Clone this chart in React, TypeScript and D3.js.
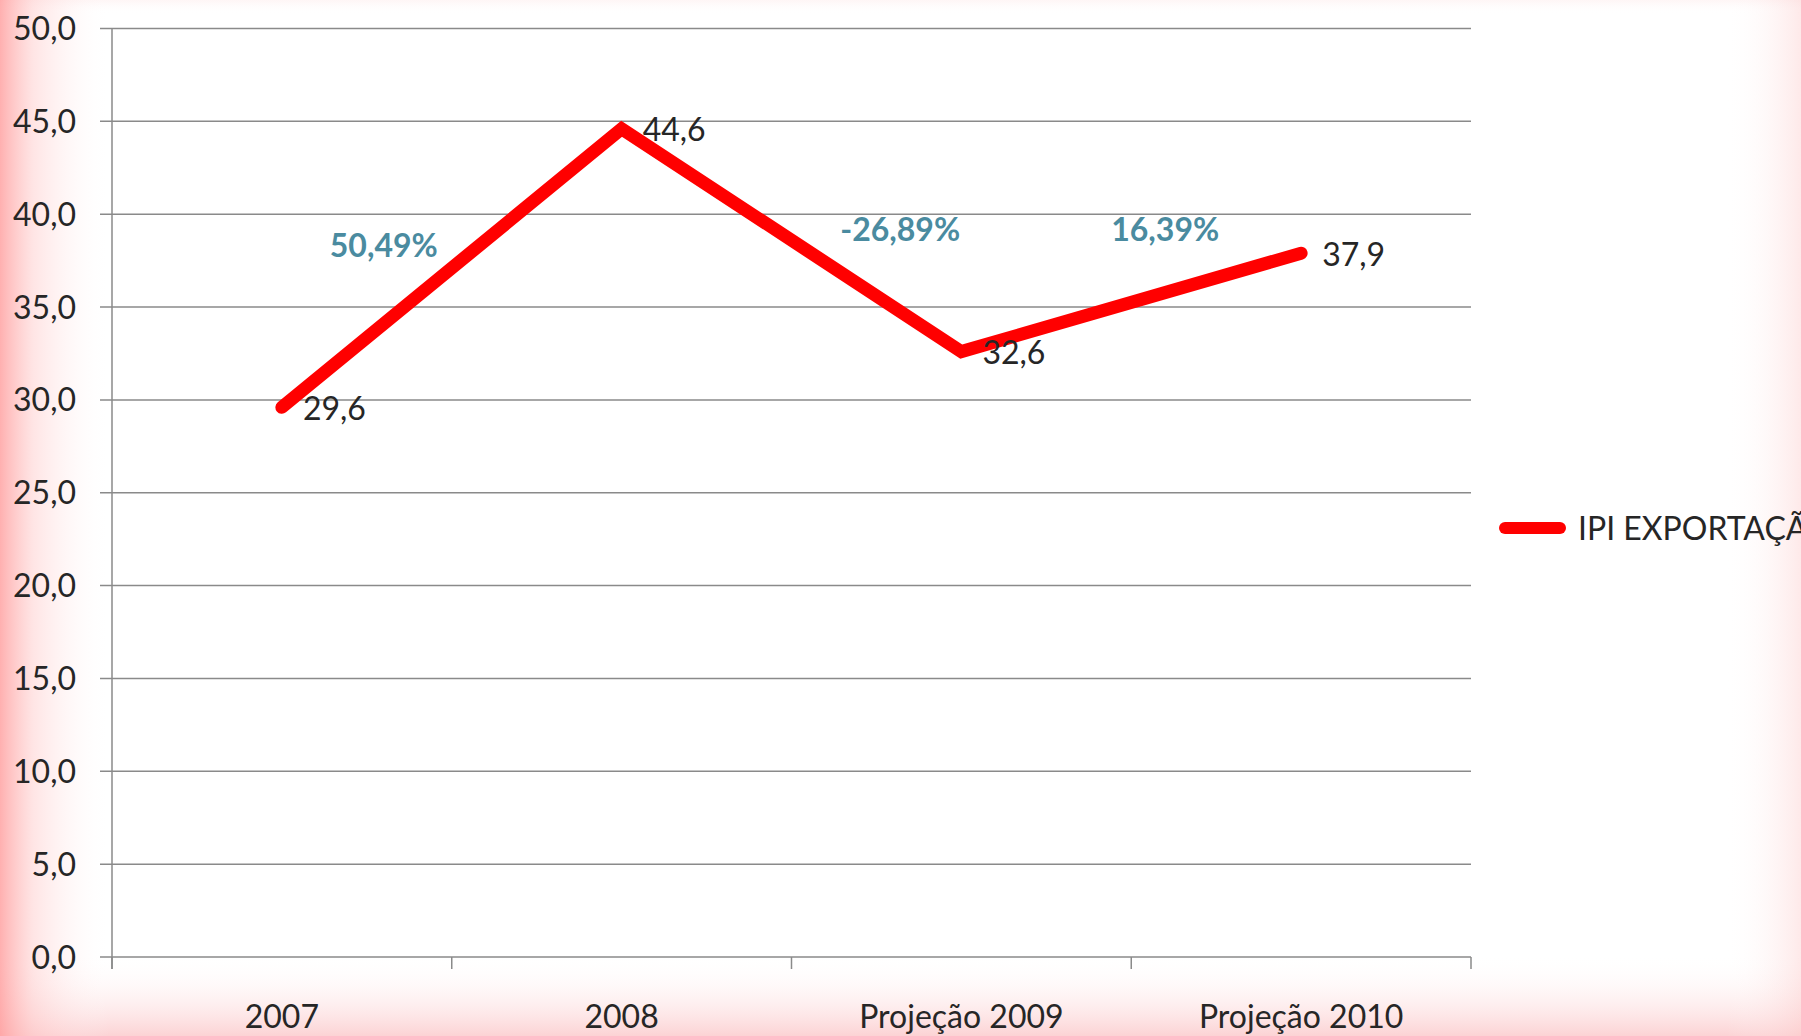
import * as d3 from "d3";

const categories = ["2007", "2008", "Projeção 2009", "Projeção 2010"];
const values = [29.6, 44.6, 32.6, 37.9];
const valueLabels = ["29,6", "44,6", "32,6", "37,9"];
const yTicks = [0, 5, 10, 15, 20, 25, 30, 35, 40, 45, 50];
// growth annotations, anchored in data space (category index, value)
const growthLabels = ["50,49%", "-26,89%", "16,39%"];
const growthAt = [0.3, 1.82, 2.6];
const growthY = [38.3, 39.2, 39.2];
const seriesName = "IPI EXPORTAÇÃO";

const W = 1801;
const H = 1036;
const FONT = "Lato, 'Open Sans', sans-serif";

export default function App() {
  const margin = { left: 112, right: 330, top: 28.5, bottom: 79 };
  const x = d3
    .scaleBand<string>()
    .domain(categories)
    .range([margin.left, W - margin.right])
    .padding(0);
  const cx = (c: string) => (x(c) as number) + x.bandwidth() / 2;
  const xi = d3
    .scaleLinear()
    .domain([0, categories.length - 1])
    .range([cx(categories[0]), cx(categories[categories.length - 1])]);
  const y = d3.scaleLinear().domain([0, 50]).range([H - margin.bottom, margin.top]);

  const line = d3
    .line<number>()
    .x((_, i) => cx(categories[i]))
    .y((d) => y(d));

  const fmt = (v: number) => v.toFixed(1).replace(".", ",");
  const x0 = margin.left;
  const x1 = W - margin.right;
  const boundaries = [...categories.map((c) => x(c) as number), x1];

  return (
    <svg
      width={W}
      height={H}
      style={{ position: "absolute", left: 0, top: 0, display: "block", background: "#fff" }}
      fontFamily={FONT}
    >
      <defs>
        <linearGradient id="gl" x1="0" x2="1" y1="0" y2="0">
          <stop offset="0" stopColor="#ff9c9c" stopOpacity="0.8" />
          <stop offset="0.3" stopColor="#ffc4c4" stopOpacity="0.45" />
          <stop offset="1" stopColor="#ffffff" stopOpacity="0" />
        </linearGradient>
        <linearGradient id="gr" x1="1" x2="0" y1="0" y2="0">
          <stop offset="0" stopColor="#fcc8c8" stopOpacity="0.4" />
          <stop offset="1" stopColor="#ffffff" stopOpacity="0" />
        </linearGradient>
        <linearGradient id="gb" x1="0" x2="0" y1="1" y2="0">
          <stop offset="0" stopColor="#fbc4c6" stopOpacity="0.75" />
          <stop offset="1" stopColor="#ffffff" stopOpacity="0" />
        </linearGradient>
        <linearGradient id="gt" x1="0" x2="0" y1="0" y2="1">
          <stop offset="0" stopColor="#fbd0d0" stopOpacity="0.2" />
          <stop offset="1" stopColor="#ffffff" stopOpacity="0" />
        </linearGradient>
      </defs>

      <rect x={0} y={0} width={W} height={H} fill="#fff" />
      <rect x={0} y={0} width={W} height={14} fill="url(#gt)" />
      <rect x={0} y={955} width={W} height={H - 955} fill="url(#gb)" />
      <rect x={W - 75} y={0} width={75} height={H} fill="url(#gr)" />
      <rect x={0} y={0} width={110} height={H} fill="url(#gl)" />

      {/* gridlines + y ticks */}
      {yTicks.map((t) => (
        <g key={t}>
          <line x1={x0 - 12} x2={x1} y1={y(t)} y2={y(t)} stroke="#8a8a8a" strokeWidth={1.5} />
          <text
            x={76}
            y={y(t)}
            dy="0.36em"
            textAnchor="end"
            fontSize={32}
            fill="#262626"
          >
            {fmt(t)}
          </text>
        </g>
      ))}

      {/* y axis */}
      <line x1={x0} x2={x0} y1={y(50)} y2={y(0) + 12} stroke="#8a8a8a" strokeWidth={1.5} />

      {/* x ticks */}
      {boundaries.map((b, i) => (
        <line key={i} x1={b} x2={b} y1={y(0)} y2={y(0) + 12} stroke="#8a8a8a" strokeWidth={1.5} />
      ))}
      {categories.map((c) => (
        <text key={c} x={cx(c)} y={1016} dy="0.36em" textAnchor="middle" fontSize={32} fill="#262626">
          {c}
        </text>
      ))}

      {/* series */}
      <path
        d={line(values) || ""}
        fill="none"
        stroke="#ff0000"
        strokeWidth={13}
        strokeLinejoin="miter"
        strokeLinecap="round"
      />
      {values.map((v, i) => (
        <text
          key={i}
          x={cx(categories[i]) + 21}
          y={y(v) + 1}
          dy="0.36em"
          fontSize={32}
          fill="#262626"
        >
          {valueLabels[i]}
        </text>
      ))}

      {/* growth annotations */}
      {growthLabels.map((g, i) => (
        <text
          key={g}
          x={xi(growthAt[i])}
          y={y(growthY[i])}
          dy="0.36em"
          textAnchor="middle"
          fontSize={32}
          fontWeight="bold"
          fill="#4a8ba0"
        >
          {g}
        </text>
      ))}

      {/* legend */}
      <line x1={1505} x2={1560} y1={528} y2={528} stroke="#ff0000" strokeWidth={12} strokeLinecap="round" />
      <text x={1578} y={528} dy="0.36em" fontSize={32} fill="#262626">
        {seriesName}
      </text>
    </svg>
  );
}
